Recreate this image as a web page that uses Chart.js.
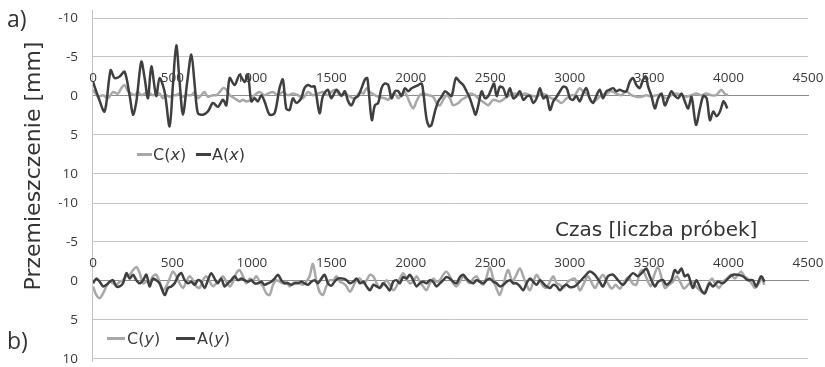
<!DOCTYPE html>
<html>
<head>
<meta charset="utf-8">
<script src="https://cdn.jsdelivr.net/npm/chart.js@4/dist/chart.umd.min.js"></script>
<style>
  body { margin: 0; background: #fff; font-family: "DejaVu Sans", sans-serif; color: #333; }
  #wrap { position: relative; width: 825px; height: 367px; overflow: hidden; }
  canvas { position: absolute; left: 0; }
  .txt { position: absolute; white-space: nowrap; line-height: 1; }
  .leg { position: absolute; font-size: 16px; line-height: 1; color: #3a3a3a; white-space: nowrap; }
  .sw { position: absolute; height: 2.5px; }
</style>
</head>
<body>
<div id="wrap">
  <div style="position:absolute;left:92px;top:10px;width:1px;height:352px;background:#c4c4c4"></div>
  <canvas id="top" width="825" height="185" style="top:0"></canvas>
  <canvas id="bot" width="825" height="185" style="top:185px"></canvas>
  <div class="txt" style="left:7px;top:7px;font-size:23px;font-family:'Open Sans'">a)</div>
  <div class="txt" style="left:7px;top:329px;font-size:23px;font-family:'Open Sans'">b)</div>
  <div class="txt" style="left:33px;top:166px;font-size:22px;transform:translate(-50%,-50%) rotate(-90deg)">Przemieszczenie [mm]</div>
  <div class="txt" style="left:555px;top:219px;font-size:20px">Czas [liczba próbek]</div>
  <div class="sw" style="left:137px;top:153px;width:15px;background:#a8a8a8"></div>
  <div class="leg" style="left:153px;top:147px">C(<i>x</i>)</div>
  <div class="sw" style="left:196px;top:153px;width:15px;background:#3f3f3f"></div>
  <div class="leg" style="left:212px;top:147px">A(<i>x</i>)</div>
  <div class="sw" style="left:107px;top:337px;width:18px;background:#a8a8a8"></div>
  <div class="leg" style="left:127px;top:331px">C(<i>y</i>)</div>
  <div class="sw" style="left:176px;top:337px;width:19px;background:#3f3f3f"></div>
  <div class="leg" style="left:197px;top:331px">A(<i>y</i>)</div>
</div>
<script>
// axis ticks
const xTicks = [0, 500, 1000, 1500, 2000, 2500, 3000, 3500, 4000, 4500];
const yTicks = [-10, -5, 0, 5, 10];

// a) displacement along x: sample number / value [mm]
const axT = [0,31,73,111,136,168,199,231,252,273,
  304,325,346,367,398,419,451,482,503,524,
  545,566,593,619,640,660,692,723,755,786,
  818,839,860,891,923,954,975,996,1017,1038,
  1059,1080,1111,1143,1174,1195,1216,1237,1258,1279,
  1310,1331,1353,1374,1395,1426,1447,1478,1500,1533,
  1564,1585,1606,1627,1648,1669,1690,1711,1726,1738,
  1755,1774,1795,1816,1837,1858,1879,1900,1921,1942,
  1963,1984,2005,2026,2047,2068,2078,2099,2116,2131,
  2152,2173,2194,2215,2236,2257,2284,2309,2330,2351,
  2372,2393,2408,2425,2446,2467,2488,2509,2524,2540,
  2561,2582,2603,2624,2645,2666,2687,2708,2729,2750,
  2771,2792,2813,2834,2855,2876,2897,2918,2939,2960,
  2981,3002,3021,3042,3063,3084,3105,3126,3147,3168,
  3189,3210,3231,3252,3273,3294,3315,3336,3357,3378,
  3399,3420,3441,3462,3479,3494,3515,3536,3557,3578,
  3599,3620,3641,3662,3683,3704,3725,3746,3767,3795,
  3820,3841,3862,3883,3904,3925,3946,3967,3977,3992];
const axV = [-1.8,0,2.0,-3.3,-2.3,-2.5,-3.1,0,2.4,0.7,
  -4.4,-2.3,0.3,-3.8,0,-2.3,-0.5,3.9,-1.4,-6.5,
  -1.8,2.4,-1.8,-5.3,-1.4,2.2,2.4,2.0,0.9,1.4,
  0.5,1.2,-2.3,-1.4,-2.7,-1.8,-2.7,0.7,0.3,0.7,
  -0.1,0.7,2.4,2.2,-1.0,-2.1,1.6,1.8,0.3,0.9,
  0.3,-1.0,-1.4,-1.2,-1.2,2.2,0,-0.8,0.3,-0.8,
  0,-0.6,0.7,1.2,0.3,0,-1.0,-2.1,-2.3,0,
  3.1,1.2,0.9,-1.0,-1.6,-1.4,0.3,-0.6,-0.6,0,
  -1.0,-0.6,-1.0,-1.2,-1.4,-1.6,-0.6,2.9,3.9,3.7,
  2.0,0.7,0.1,-0.6,-0.3,0,-2.3,-1.8,-1.4,-0.6,
  0.3,1.6,2.4,1.2,-0.6,0.3,0,-1.0,-1.6,0,
  -1.2,-1.0,0.1,-1.0,0.3,0,-0.6,0.5,0.1,0,
  0.9,0.3,-1.0,0.3,0,1.8,0.7,0.1,-0.6,-1.2,
  -1.0,0.3,0.5,0,0.7,-0.3,-1.0,0.3,0.9,0,
  -0.8,0.3,-0.6,-0.8,-1.0,-0.6,-0.8,-0.6,-0.6,-1.8,
  -2.3,-1.4,-1.0,-2.1,-2.5,-1.2,0,1.6,0.3,-0.3,
  1.2,0.3,-0.6,0,0.3,-0.3,0.7,1.6,0.1,3.7,
  1.6,0,0.3,3.1,2.0,2.6,2.0,0.7,0.9,1.6];

const cxT = [0,31,63,94,126,157,178,199,220,241,
  262,283,304,325,346,377,398,419,440,461,
  482,503,524,545,566,587,619,640,660,681,
  702,723,755,776,797,818,839,860,891,923,
  944,965,996,1017,1048,1080,1101,1132,1164,1195,
  1227,1258,1290,1321,1353,1384,1415,1447,1478,1500,
  1522,1554,1585,1617,1648,1680,1701,1722,1743,1774,
  1795,1837,1858,1879,1900,1921,1942,1963,1994,2015,
  2036,2057,2078,2110,2141,2162,2183,2204,2225,2246,
  2267,2299,2320,2351,2372,2403,2435,2466,2487,2519,
  2561,2592,2624,2655,2687,2718,2750,2792,2823,2855,
  2886,2918,2949,2981,3012,3032,3063,3084,3116,3137,
  3168,3199,3231,3262,3294,3325,3357,3388,3420,3451,
  3483,3514,3545,3577,3608,3640,3671,3703,3734,3766,
  3797,3829,3860,3891,3923,3954,3975,3996];
const cxV = [-0.8,0.1,-0.1,0.3,-0.5,-0.3,-1.0,-1.4,-0.6,-0.3,
  -0.1,-0.5,-0.1,-0.3,-0.5,-0.1,-0.3,-0.3,0.3,-0.1,
  0.1,-0.1,-0.1,-0.3,0.1,-0.1,-0.1,-0.5,0.3,-0.1,
  -0.5,0.1,-0.1,-0.1,-0.5,-1.0,-0.8,-0.1,0.3,0.7,
  0.5,0.7,0.5,-0.1,-0.5,-0.1,-0.3,-0.5,-0.1,-0.5,
  -0.1,-0.3,-0.1,0.3,-0.5,-0.1,-0.3,-0.5,-0.1,-0.5,
  -0.8,-0.1,-0.3,0.1,0.3,-0.5,-0.3,-1.0,-0.5,-0.1,
  0.1,0.3,0.5,-0.1,-0.3,0.3,-0.1,-0.5,0.9,1.6,
  0.7,-0.1,-0.3,-0.1,0.1,0.9,1.2,0.5,-0.1,0.3,
  1.2,0.9,0.5,0.1,-0.3,-0.1,0.5,0.9,1.2,0.5,
  0.7,0.3,-0.1,-0.3,-0.1,-0.3,-0.1,0.1,-0.3,-0.1,
  0.3,0.5,0.9,0.3,-0.1,-0.1,-1.0,-0.6,-0.1,0.7,
  0.5,-0.1,-0.3,-0.6,-0.3,-0.1,-0.6,-0.1,0.1,0.1,
  -0.1,0.1,-0.1,-0.1,0.3,-0.1,-0.3,-0.1,0.1,-0.1,
  -0.3,-0.1,-0.3,-0.1,-0.1,-0.8,-0.3,-0.1];

// b) displacement along y
const ayT = [0,21,42,63,84,105,126,147,168,189,
  210,231,252,273,294,315,336,356,377,398,
  419,451,472,493,514,535,556,577,598,619,
  640,660,681,702,723,744,765,786,807,828,
  849,870,891,912,933,954,975,996,1017,1038,
  1059,1080,1101,1122,1143,1164,1185,1206,1227,1248,
  1269,1290,1311,1332,1353,1374,1395,1416,1437,1458,
  1479,1500,1520,1540,1575,1596,1617,1638,1659,1680,
  1701,1722,1743,1764,1785,1805,1826,1847,1868,1889,
  1910,1931,1952,1973,1994,2015,2036,2057,2078,2099,
  2120,2141,2162,2183,2204,2225,2246,2267,2288,2309,
  2330,2351,2372,2393,2414,2435,2456,2477,2498,2519,
  2540,2561,2582,2603,2624,2645,2666,2687,2708,2729,
  2750,2771,2792,2813,2834,2855,2876,2897,2918,2939,
  2960,2981,3002,3032,3063,3095,3126,3158,3189,3210,
  3241,3273,3304,3336,3367,3399,3430,3462,3483,3504,
  3536,3557,3588,3609,3640,3661,3682,3703,3724,3745,
  3775,3797,3829,3850,3881,3902,3933,3965,3996,4027,
  4058,4090,4121,4153,4174,4205,4226];
const ayV = [0.3,-0.3,0.1,0.7,0.5,0.1,-0.1,0.7,0.7,0.3,
  -1.0,-0.3,-0.8,-0.1,0.3,-0.1,-0.8,0.7,-0.3,-0.1,
  0.3,1.8,0.9,0.7,0.3,-0.6,-1.0,-0.1,0.3,0.1,
  0.5,-0.1,0.1,0.9,-0.1,-1.0,-0.3,0.3,-0.3,0.7,
  0.3,-0.1,-0.6,-0.1,-0.3,-0.1,0.1,-0.1,0.3,0.3,
  0.1,0.5,0.3,0.1,-0.3,-0.8,-0.1,0.3,0.3,0.5,
  0.3,0.3,0.1,0.3,0.5,0.1,-0.1,0.3,-0.3,-0.8,
  0.3,0.6,0.1,-0.3,-0.3,-0.1,0.3,0.1,-0.3,0.3,
  0.1,0.7,1.2,0.5,0.7,0.9,0.3,0.7,1.2,0.1,
  -0.1,0.3,-0.5,-0.3,-0.8,-0.1,0.7,0.3,0.1,0.3,
  -0.1,0.1,0.7,0.3,-0.1,-0.5,-0.3,0.1,0.3,-0.5,
  -0.8,-0.3,0.1,0.3,-0.1,0.1,0.3,-0.1,-0.3,0.1,
  0.3,0.7,0.5,0.1,-0.1,0.3,0.3,0.7,1.2,0.3,
  -0.3,0.1,0.5,-0.1,0.3,0.7,0.9,0.5,0.7,1.2,
  0.7,0.5,0.8,0.7,0.1,-0.6,-1.2,-0.8,0.1,0.7,
  -0.6,-0.8,-0.1,0.5,-0.3,-1.0,-0.6,-1.2,-1.6,-0.6,
  0.7,0.1,-0.1,0.5,-0.1,-1.4,-1.0,-1.6,-0.6,-0.8,
  0.9,-0.1,1.2,1.6,0.3,0.7,0.1,0.3,-0.3,-0.8,
  -0.8,-0.6,-0.1,-0.1,0.7,-0.6,0.1];

const cyT = [0,21,42,63,84,105,126,147,168,189,
  210,231,252,273,294,315,336,356,377,398,
  419,440,461,482,503,524,545,566,587,608,
  629,650,671,692,713,734,755,776,797,818,
  839,860,881,902,923,944,965,986,1007,1028,
  1049,1070,1091,1112,1133,1154,1175,1196,1217,1238,
  1259,1280,1300,1321,1342,1363,1384,1405,1426,1447,
  1468,1489,1512,1533,1554,1575,1596,1617,1638,1659,
  1680,1701,1722,1743,1764,1785,1805,1826,1847,1868,
  1889,1910,1931,1952,1973,1994,2015,2036,2057,2078,
  2099,2120,2141,2162,2183,2204,2225,2246,2267,2288,
  2309,2330,2351,2372,2393,2414,2435,2456,2477,2497,
  2519,2540,2560,2582,2612,2640,2660,2687,2708,2729,
  2750,2771,2792,2813,2834,2855,2876,2897,2918,2939,
  2960,2981,3002,3032,3064,3090,3115,3140,3160,3190,
  3210,3240,3265,3290,3315,3345,3370,3395,3420,3440,
  3460,3485,3510,3530,3555,3580,3600,3625,3650,3675,
  3700,3720,3745,3770,3795,3820,3845,3870,3895,3915,
  3940,3965,3990,4015,4040,4060,4080,4100,4120,4145,
  4165,4190,4210,4225];
const cyV = [0.7,1.8,2.2,1.6,0.7,0.1,0.3,0.5,0.1,-0.1,
  -0.6,-0.8,-1.4,-1.8,-1.0,0.3,0.1,0.1,-0.6,-0.8,
  0.1,1.2,0.7,-0.3,-1.2,-0.6,0.3,0.9,0.1,-0.6,
  -0.1,0.7,0.9,-0.1,-0.6,0.1,0.7,0.3,-0.1,-0.6,
  0.1,0.7,0.1,-1.0,-1.4,-0.6,0.3,-0.3,-0.1,-0.6,
  0.1,0.7,1.6,1.8,0.5,-0.1,0.1,0.3,0.1,0.7,
  0.3,0.1,0.3,0.5,0.1,-0.6,-2.2,-0.1,1.4,1.8,
  0.7,-0.1,-0.1,-0.6,0.1,0.3,0.7,1.4,0.7,-0.1,
  -0.3,0.3,-0.1,-0.8,-0.6,0.3,0.9,0.5,-0.1,0.5,
  1.2,0.7,-0.3,-1.0,-0.3,0.3,0.1,-0.6,0.1,0.7,
  1.2,0.3,-0.3,0.1,-0.1,-0.8,-1.2,-0.6,0.3,0.7,
  0.1,-0.6,-0.1,0.3,-0.3,-0.6,0.1,0.5,-0.5,-1.8,
  -0.3,1.0,1.8,0.5,-1.4,0.1,-0.6,-1.6,-0.6,0.5,
  1.2,0.1,-0.8,-0.1,0.7,0.9,0.1,-0.6,0.3,0.5,
  0.9,0.3,-0.1,-0.3,1.2,0.3,-0.6,0.3,0.9,-0.3,
  -0.8,0.3,1.0,0.5,1.0,0.1,-0.5,0.3,0.5,-1.0,
  -1.4,-0.3,0.7,-0.6,-1.8,-0.3,0.9,0.5,0.1,-0.6,
  0.3,1.0,0.5,0.1,0.7,1.2,1.6,0.5,-0.3,0.3,
  0.9,0.1,-0.3,-0.8,-0.3,-0.8,-1.2,-0.6,-0.3,0.3,
  0.9,0.3,-0.3,0.5];

const pts = (t, v) => t.map((x, i) => ({ x, y: v[i] }));
const tickFont = { family: "Open Sans", size: 13.5 };

function panel(id, aT, aV, cT, cV) {
  return new Chart(document.getElementById(id), {
    type: "line",
    data: {
      datasets: [
        { data: pts(aT, aV), borderColor: "#3f3f3f", borderWidth: 2.5, pointRadius: 0, tension: 0.3 },
        { data: pts(cT, cV), borderColor: "#a8a8a8", borderWidth: 2.5, pointRadius: 0, tension: 0.3 },
      ],
    },
    options: {
      responsive: false,
      animation: false,
      layout: { padding: { top: 18, bottom: 11, left: 0, right: 17 } },
      plugins: { legend: { display: false }, tooltip: { enabled: false } },
      scales: {
        x: {
          type: "linear",
          min: 0,
          max: 4500,
          position: { y: 0 },
          grid: { display: false },
          border: { color: "#8c8c8c", width: 1 },
          afterBuildTicks: (s) => { s.ticks = xTicks.map((v) => ({ value: v })); },
          ticks: { padding: -34, maxRotation: 0, autoSkip: false, color: "#3a3a3a", font: tickFont, callback: (v) => String(v) },
        },
        y: {
          type: "linear",
          min: -10,
          max: 10,
          reverse: true,
          grid: { color: "#c4c4c4", drawTicks: true, tickLength: 12, tickColor: "rgba(0,0,0,0)" },
          border: { display: false },
          afterBuildTicks: (s) => { s.ticks = yTicks.map((v) => ({ value: v })); },
          afterFit: (s) => { s.width = 93; },
          ticks: { padding: 3, color: "#3a3a3a", font: tickFont },
        },
      },
    },
  });
}

panel("top", axT, axV, cxT, cxV);
panel("bot", ayT, ayV, cyT, cyV);
</script>
</body>
</html>
